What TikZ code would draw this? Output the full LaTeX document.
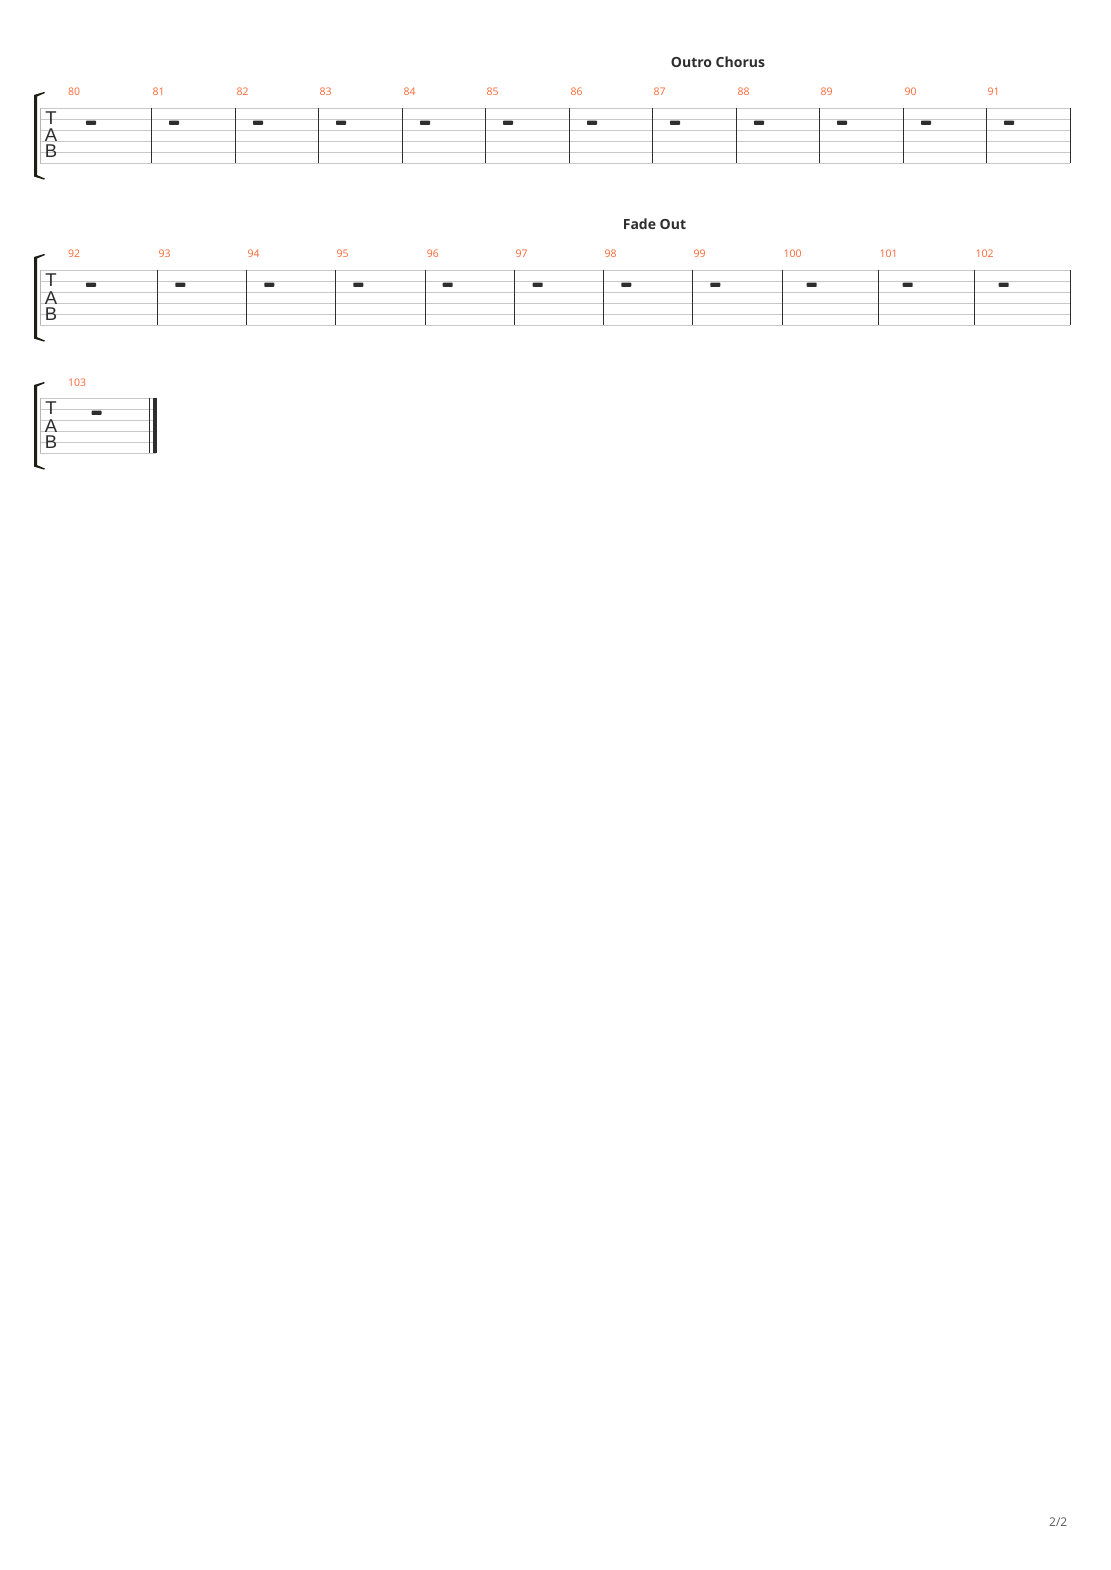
\documentclass[tikz,border=0pt]{standalone}
\usepackage{fontspec}
\setmainfont{Open Sans}
\newfontfamily\tabfont{Liberation Sans}
\usepackage{tikz}
\usetikzlibrary{calc,positioning}
\definecolor{barnum}{HTML}{FF6633}
\definecolor{staffgray}{HTML}{C8C8C8}
\definecolor{ink}{HTML}{2E2E2E}
\definecolor{bracketcol}{HTML}{1E1E14}
\tikzset{
  staffline/.style={staffgray,line width=1pt},
  leftline/.style={staffgray!90!black,line width=1.6pt},
  barline/.style={ink,line width=1pt},
  endbar/.style={ink,line width=3.4pt},
  restmark/.style={fill=ink,rounded corners=0.8pt},
  numlabel/.style={anchor=base west,inner sep=0pt,text=barnum,
    font=\fontsize{10.5}{12}\selectfont},
  title/.style={anchor=base,inner sep=0pt,text=ink,
    font=\bfseries\fontsize{14}{16}\selectfont},
  tabletter/.style={inner sep=0pt,text=ink,text height=13pt,text depth=0pt,
    font=\tabfont\fontsize{18.5}{19}\selectfont},
  every node/.style={font=\small}
}

\begin{document}
\begin{tikzpicture}[x=1pt,y=-1pt,line cap=butt,line join=round]
  % --- Page ---
  \useasboundingbox[fill=white] (0,0) rectangle (1110,1570);

  % --- Staff 1: top line at 108.3 ---
  \def\ytop{108.3}
  \foreach \k in {0,...,5}
    \draw[staffline] (40,\ytop+11*\k) -- (1070,\ytop+11*\k);
  \draw[leftline] (40.5,\ytop) -- (40.5,\ytop+55);
  \fill[bracketcol] (34,\ytop-13.3) -- (44,\ytop-16.3) -- (45,\ytop-15.3)
    -- (37,\ytop-11.8) -- (37,\ytop+66.8) -- (45,\ytop+70.3) -- (44,\ytop+71.3)
    -- (34,\ytop+68.3) -- cycle;
  \node[tabletter] (tT1) at (51,\ytop+9.7) {T};
  \node[tabletter] (tA1) at (51,\ytop+27.2) {A};
  \node[tabletter] (tB1) at (51,\ytop+43.2) {B};
  \node[title] (outro) at (718,67.3) {Outro Chorus};
  % bar x / number / rest x
  \node[numlabel] (n80) at (68,96) {80};
  \fill[restmark] (86,\ytop+12.3) rectangle (96,\ytop+16.6);
  \foreach \bx/\num in {151/81,235/82,318/83,402/84,485/85,569/86,
                        652/87,736/88,819/89,903/90,986/91}{
    \draw[barline] (\bx,\ytop) -- (\bx,\ytop+55);
    \node[numlabel] (n\num) at (\bx+1.5,96) {\num};
    \fill[restmark] (\bx+18,\ytop+12.3) rectangle (\bx+28,\ytop+16.6);
  }
  \draw[barline] (1070,\ytop) -- (1070,\ytop+55);

  % --- Staff 2: top line at 270.3 ---
  \def\ytop{270.3}
  \foreach \k in {0,...,5}
    \draw[staffline] (40,\ytop+11*\k) -- (1070,\ytop+11*\k);
  \draw[leftline] (40.5,\ytop) -- (40.5,\ytop+55);
  \fill[bracketcol] (34,\ytop-13.3) -- (44,\ytop-16.3) -- (45,\ytop-15.3)
    -- (37,\ytop-11.8) -- (37,\ytop+66.8) -- (45,\ytop+70.3) -- (44,\ytop+71.3)
    -- (34,\ytop+68.3) -- cycle;
  \node[tabletter] (tT2) at (51,\ytop+9.7) {T};
  \node[tabletter] (tA2) at (51,\ytop+27.2) {A};
  \node[tabletter] (tB2) at (51,\ytop+43.2) {B};
  \node[title] (fade) at (654.5,229.5) {Fade Out};
  \node[numlabel] (n92) at (68,258) {92};
  \fill[restmark] (86,\ytop+12.3) rectangle (96,\ytop+16.6);
  \foreach \bx/\num/\off in {157.3/93/23,246.3/94/23,335.3/95/23,425.7/96/22,
                             514.3/97/23.4,603.3/98/23,692.3/99/23,
                             782.3/100/29.4,878.3/101/29.4,974.3/102/29.4}{
    \draw[barline] (\bx,\ytop) -- (\bx,\ytop+55);
    \node[numlabel] (n\num) at (\bx+1,258) {\num};
    \fill[restmark] (\bx+\off-5,\ytop+12.3) rectangle (\bx+\off+5,\ytop+16.6);
  }
  \draw[barline] (1070,\ytop) -- (1070,\ytop+55);

  % --- Staff 3: top line at 398.3, final bar ---
  \def\ytop{398.3}
  \foreach \k in {0,...,5}
    \draw[staffline] (40,\ytop+11*\k) -- (156,\ytop+11*\k);
  \draw[leftline] (40.5,\ytop) -- (40.5,\ytop+55);
  \fill[bracketcol] (34,\ytop-13.3) -- (44,\ytop-16.3) -- (45,\ytop-15.3)
    -- (37,\ytop-11.8) -- (37,\ytop+66.8) -- (45,\ytop+70.3) -- (44,\ytop+71.3)
    -- (34,\ytop+68.3) -- cycle;
  \node[tabletter] (tT3) at (51,\ytop+9.7) {T};
  \node[tabletter] (tA3) at (51,\ytop+27.2) {A};
  \node[tabletter] (tB3) at (51,\ytop+43.2) {B};
  \node[numlabel] (n103) at (68,386) {103};
  \fill[restmark] (91.5,\ytop+12.3) rectangle (101.5,\ytop+16.6);
  \draw[barline] (149.3,\ytop) -- (149.3,\ytop+55);
  \draw[endbar] (155,\ytop) -- (155,\ytop+55);

  % --- Page number ---
  \node[anchor=base east,inner sep=0pt,text=black!65,
    font=\fontsize{12}{14}\selectfont] (page) at (1067.5,1526.5) {2/2};
\end{tikzpicture}
\end{document}
